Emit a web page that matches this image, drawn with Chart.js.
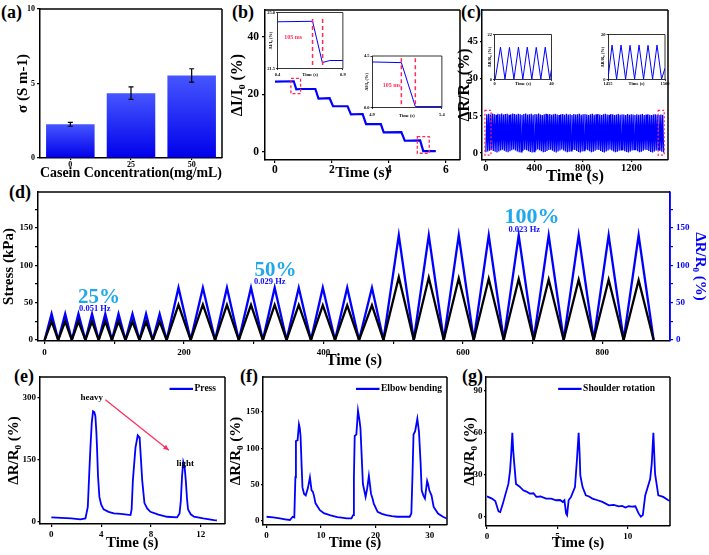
<!DOCTYPE html>
<html><head><meta charset="utf-8">
<script src="https://cdn.jsdelivr.net/npm/chart.js@4.4.1/dist/chart.umd.min.js"></script>
<style>
html,body{margin:0;padding:0;background:#fff;}
body{width:709px;height:555px;position:relative;overflow:hidden;}
canvas{position:absolute;}
.lbl{position:absolute;font:bold 18px "Liberation Serif",serif;line-height:18px;color:#000;}
</style></head><body>
<div class="lbl" style="left:1px;top:3px">(a)</div>
<div class="lbl" style="left:232px;top:3px">(b)</div>
<div class="lbl" style="left:461px;top:3px">(c)</div>
<div class="lbl" style="left:9px;top:183px">(d)</div>
<div class="lbl" style="left:14px;top:367px">(e)</div>
<div class="lbl" style="left:240px;top:367px">(f)</div>
<div class="lbl" style="left:462px;top:367px">(g)</div>
<script>
// ---------------- DATA ----------------
// (a)
const aCategories = ['0', '25', '50'];
const aValues = [2.26, 4.35, 5.54];
const aErrors = [0.13, 0.42, 0.45];
const aYTicks = [0, 5, 10];
const aYLabels = ['0', '5', '10'];
// (b) main
const bTime = [0, 0.66, 0.75, 0.9, 1.42, 1.53, 1.92, 2.04, 2.55, 2.67, 3.08, 3.2, 3.72, 3.82, 4.44, 4.56, 5.1, 5.21, 5.65];
const bCurrent = [24.5, 24.6, 21.8, 21.9, 21.9, 18.6, 18.7, 15.9, 15.9, 13.1, 13.2, 9.7, 9.7, 6.8, 6.9, 3.9, 4.0, 0.3, 0.3];
const bXTicks = [0, 2, 4, 6];
const bXLabels = ['0', '2', '4', '6'];
const bYTicks = [0, 20, 40];
const bYLabels = ['0', '20', '40'];
// (b) insets
const b1Time = [0.4, 0.668, 0.743, 0.8, 0.9];
const b1Current = [24.42, 24.45, 21.87, 22.0, 22.0];
const b1XTicks = [0.4, 0.9], b1XLabels = ['0.4', '0.9'];
const b1YTicks = [21.5, 25.0], b1YLabels = ['21.5', '25.0'];
const b2Time = [4.9, 5.11, 5.21, 5.4];
const b2Current = [3.98, 3.92, 0.08, 0.08];
const b2XTicks = [4.9, 5.4], b2XLabels = ['4.9', '5.4'];
const b2YTicks = [0, 4.5], b2YLabels = ['0.0', '4.5'];
// (c) main: per-cycle peak and valley values, cycles evenly spaced
const cPeriod = 15.26;
const cPeaks = [15.6,15.8,15.5,15.9,15.7,15.4,15.8,15.6,15.9,15.5,
  15.7,15.8,15.4,15.6,15.9,15.7,15.5,15.8,15.6,15.4,
  15.7,15.9,15.5,15.6,15.8,15.4,15.7,15.6,15.9,15.5,
  15.3,15.6,15.8,15.5,15.7,15.4,15.6,15.8,15.5,15.3,
  15.6,15.7,15.4,15.8,15.5,15.6,15.3,15.7,15.5,15.6,
  15.8,15.4,15.6,15.7,15.5,15.3,15.6,15.8,15.4,15.6,
  15.7,15.5,15.3,15.6,15.8,15.5,15.4,15.7,15.6,15.3,
  15.5,15.7,15.4,15.6,15.5,15.3,15.7,15.4,15.6,15.5,
  15.3,15.6,15.4,15.5,15.7,15.3,15.5,15.6,15.4,15.3,
  15.5,15.6,15.4,15.3,15.5,15.4];
const cValleys = [0.3,0.6,0.9,1.2,0.8,0.5,0.2,0.6,1.0,1.3,
  0.9,0.5,0.3,0.7,1.1,1.4,1.0,0.6,0.3,0.5,
  0.9,1.3,1.1,0.7,0.4,0.2,0.6,1.0,1.4,1.1,
  0.7,0.3,0.4,0.8,1.2,1.3,0.9,0.5,0.2,0.6,
  1.0,1.4,1.0,0.6,0.3,0.5,0.9,1.3,1.2,0.8,
  0.4,0.2,0.6,1.0,1.4,1.1,0.7,0.3,0.5,0.9,
  1.3,1.2,0.8,0.4,0.2,0.6,1.0,1.4,1.0,0.6,
  0.3,0.5,0.9,1.3,1.1,0.7,0.4,0.2,0.6,1.0,
  1.4,1.1,0.7,0.3,0.5,0.9,1.3,1.2,0.8,0.4,
  0.2,0.6,1.0,1.3,0.9,0.5,0.2];
const cXTicks = [0, 400, 800, 1200], cXLabels = ['0', '400', '800', '1200'];
const cYTicks = [0, 15, 30, 45], cYLabels = ['0', '15', '30', '45'];
// (c) insets
const c1Time = [0.5, 4.2, 7.35, 10.5, 13.65, 16.8, 19.9, 23, 26.2, 29.3, 32.5, 35.6, 38.8, 40];
const c1Resp = [0.2, 15.8, 0.2, 15.7, 0.2, 15.8, 0.2, 15.8, 0.2, 15.7, 0.2, 15.8, 0.2, 5];
const c1XTicks = [0, 40], c1XLabels = ['0', '40'];
const c1YTicks = [0, 22], c1YLabels = ['0', '22'];
const c2Time = [1455, 1458.2, 1461.8, 1465.3, 1468.9, 1472.4, 1476, 1479.5, 1483.1, 1486.6, 1490.2, 1493.7, 1497.3, 1500];
const c2Resp = [0.5, 15.3, 0.2, 15.3, 0.2, 15.2, 0.2, 15.3, 0.2, 15.2, 0.2, 15.3, 0.2, 5];
const c2XTicks = [1455, 1500], c2XLabels = ['1455', '1500'];
const c2YTicks = [0, 20], c2YLabels = ['0', '20'];
// (d)
const dTime = [0,10,19.5,29.5,39,48.5,58.5,68,77.5,87,96.5,106,116,126,136,145.5,155,165,175,
  192,209.5,227,244.5,261.5,278.5,296,313,330,347,364.5,382,399,416.5,434,451,469.5,486,
  508,529.5,551,572.5,594,615.5,637,658.5,680,701.5,723,744.5,766,787.5,809,830.5,852,873.5];
const dStress = [0,25,0,25,0,25,0,25,0,25,0,25,0,24.5,0,24.5,0,24.5,0,
  47,0,47.5,0,47,0,47,0,47,0,47,0,46.5,0,46.5,0,46.5,0,
  84,0,83.5,0,82.5,0,82,0,81.5,0,81,0,80.5,0,80.5,0,80,0];
const dResist = [0,35,0,35,0,35,0,35,0,35,0,35,0,35,0,35,0,35,0,
  70,0,70,0,70,0,70,0,70,0,70,0,70,0,70,0,70,0,
  140,0,140,0,140,0,140,0,140,0,140,0,140,0,140,0,140,0];
const dXTicks = [0,100,200,300,400,500,600,700,800];
const dXLabels = ['0','','200','','400','','600','','800'];
const dYTicks = [0,25,50,75,100,125,150,175];
const dYLabels = ['0','','50','','100','','150',''];
// (e)
const eTime = [0,0.8,1.6,2.33,2.74,2.93,3.05,3.14,3.25,3.35,3.45,3.54,3.62,3.67,3.75,3.86,4.0,4.2,4.6,5.02,5.6,6.36,6.45,6.55,6.76,6.94,7.05,7.1,7.2,7.3,7.48,7.7,7.96,8.6,9.3,10.1,10.3,10.4,10.5,10.6,10.7,10.8,10.9,10.98,11.2,11.46,12.2,13.07,13.3];
const eResp = [10.5,9.5,8,5.7,8,36,120,179,240,267,265,255,215,179,110,60,42,30,24,20,19,16,30,100,179,209,205,199,150,100,45,32,24,17,12,10.5,20,50,110,145,135,100,55,30,18,12,8,4,3.5];
const eXTicks = [0,4,8,12], eXLabels = ['0','4','8','12'];
const eYTicks = [0,150,300], eYLabels = ['0','150','300'];
// (f)
const fTime = [0,1.2,2.45,3.4,4.3,4.8,5.1,5.3,5.4,5.7,5.95,6.1,6.25,6.45,6.6,6.9,7.2,7.6,7.97,8.27,8.5,8.7,9.0,9.8,10.6,11.1,11.6,12.3,13,13.8,14.7,15.6,15.9,16.05,16.2,16.5,16.8,17.05,17.25,17.5,17.7,18.2,18.5,18.8,19.2,19.5,19.7,20.4,21.2,22,23,24,25.7,26.3,26.6,26.8,27,27.3,27.7,28,28.3,28.5,28.8,29.1,29.5,29.7,29.9,30.3,30.7,31.5,32.4,33.1];
const fResp = [5.5,4.5,3.2,2,1,5.5,4.6,60,110,111,133,128,117,75,46,37,35,45,60,42,40,35,24,14.5,10,9,7.7,6.5,5,4.2,3.2,3.2,7.7,60,117,119,152,140,128,85,51,33,45,62,37,30,23.6,12.3,9.5,7.7,6.2,5.5,5.5,5.5,10,60,119,123.5,140.7,123,80,42,35,30.6,55,50,42,35,19,10,5.5,3];
const fXTicks = [0,10,20,30], fXLabels = ['0','10','20','30'];
const fYTicks = [0,50,100,150], fYLabels = ['0','50','100','150'];
// (g)
const gTime = [0,0.35,0.59,0.82,0.94,1.13,1.29,1.52,1.64,1.72,1.8,1.86,1.92,2.06,2.3,2.58,2.8,3.04,3.3,3.51,3.8,4.2,4.56,4.91,5.2,5.38,5.5,5.62,5.69,5.8,5.97,6.25,6.4,6.51,6.58,6.63,6.79,7.02,7.25,7.49,7.8,8.2,8.66,9.0,9.36,9.6,9.83,10.07,10.3,10.54,10.77,10.93,11.07,11.24,11.59,11.7,11.82,11.88,11.94,12.17,12.52,12.88,13.04];
const gResp = [14.6,13,11.3,3.8,3.3,9.4,15.3,23.5,33,45,60,48,40,23.5,21.7,18.9,18,16.6,16.8,14.2,14.5,13,13,11.8,12,10.6,11.8,2.4,1.2,11.8,14.2,21.2,42.4,60,45,29.6,21.2,15.3,14.5,13,12,10.6,8.2,8.5,7.5,7.8,6.6,7.5,7.2,7.5,2.4,0,1.2,15.3,27,37.6,60,45,30.6,15.3,14.2,11.8,11.3];
const gXTicks = [0,5,10], gXLabels = ['0','5','10'];
const gYTicks = [0,30,60,90], gYLabels = ['0','30','60','90'];

// ---------------- HELPERS ----------------
const SERIF = "'Liberation Serif', 'Times New Roman', serif";
const BLUE = '#0000ff', RED = '#ff2a5c', CYAN = '#1fa8ec';
const fnt = (size) => ({ family: SERIF, size: size, weight: 'bold', lineHeight: 1.2 });
const pts = (xs, ys) => xs.map((x, i) => ({ x: x, y: ys[i] }));

Chart.register({
  id: 'frame',
  beforeDatasetsDraw(chart, args, opts) {
    const a = chart.chartArea, ctx = chart.ctx;
    ctx.save();
    ctx.lineWidth = opts.width || 1.5;
    ctx.strokeStyle = opts.color || '#000';
    ctx.beginPath(); ctx.moveTo(a.left, a.top); ctx.lineTo(a.right, a.top); ctx.stroke();
    ctx.strokeStyle = opts.rightColor || opts.color || '#000';
    ctx.beginPath(); ctx.moveTo(a.right, a.top); ctx.lineTo(a.right, a.bottom); ctx.stroke();
    ctx.restore();
  }
});

function notes(items) {
  return { id: 'notes', afterDatasetsDraw(chart) {
    const ctx = chart.ctx;
    items.forEach(it => {
      const xs = chart.scales[it.xAxis || 'x'], ys = chart.scales[it.yAxis || 'y'];
      const X = v => xs.getPixelForValue(v), Y = v => ys.getPixelForValue(v);
      ctx.save();
      ctx.strokeStyle = it.color || '#000'; ctx.fillStyle = it.color || '#000';
      ctx.lineWidth = it.width || 1;
      if (it.dash) ctx.setLineDash(it.dash);
      if (it.type === 'text') {
        ctx.font = it.font; ctx.textAlign = 'center'; ctx.textBaseline = 'middle';
        ctx.fillText(it.text, X(it.x), Y(it.y));
      } else if (it.type === 'rect') {
        const x1 = X(it.x1), x2 = X(it.x2), y1 = Y(it.y1), y2 = Y(it.y2);
        ctx.strokeRect(Math.min(x1, x2), Math.min(y1, y2), Math.abs(x2 - x1), Math.abs(y2 - y1));
      } else if (it.type === 'vline') {
        ctx.beginPath(); ctx.moveTo(X(it.x), Y(it.y1)); ctx.lineTo(X(it.x), Y(it.y2)); ctx.stroke();
      } else if (it.type === 'arrow') {
        const x1 = X(it.x1), y1 = Y(it.y1), x2 = X(it.x2), y2 = Y(it.y2);
        ctx.beginPath(); ctx.moveTo(x1, y1); ctx.lineTo(x2, y2); ctx.stroke();
        const ang = Math.atan2(y2 - y1, x2 - x1), h = 6;
        ctx.beginPath(); ctx.moveTo(x2, y2);
        ctx.lineTo(x2 - h * Math.cos(ang - 0.42), y2 - h * Math.sin(ang - 0.42));
        ctx.lineTo(x2 - h * Math.cos(ang + 0.42), y2 - h * Math.sin(ang + 0.42));
        ctx.closePath(); ctx.fill();
      }
      ctx.restore();
    });
  }};
}

// legend drawn in the top-right corner of the plot area (line sample + dataset label)
function cornerLegend(rightGap) {
  return { id: 'cornerLegend', afterDatasetsDraw(chart) {
    const a = chart.chartArea, ctx = chart.ctx, ds = chart.data.datasets[0];
    ctx.save();
    ctx.font = 'bold 9.5px ' + SERIF; ctx.textAlign = 'right'; ctx.textBaseline = 'middle'; ctx.fillStyle = '#000';
    const xr = a.right - rightGap, y = a.top + 12;
    ctx.fillText(ds.label, xr, y);
    const w = ctx.measureText(ds.label).width;
    ctx.strokeStyle = ds.borderColor; ctx.lineWidth = 2.2;
    ctx.beginPath(); ctx.moveTo(xr - w - 25, y); ctx.lineTo(xr - w - 1.5, y); ctx.stroke();
    ctx.restore();
  }};
}

function linAxis(o) {
  const col = o.color || '#000';
  return {
    type: 'linear', position: o.pos, min: o.min, max: o.max,
    afterBuildTicks: s => { s.ticks = o.ticks.map(v => ({ value: v })); },
    ticks: { font: fnt(o.fs), color: col, padding: o.tp, autoSkip: false, maxRotation: 0, minRotation: 0,
      callback: v => { const i = o.ticks.indexOf(v); return i >= 0 ? o.labels[i] : ''; } },
    grid: { display: true, drawOnChartArea: false, drawTicks: true, tickLength: o.tl == null ? 3 : o.tl, color: col, lineWidth: o.bw || 1.2 },
    border: { display: true, color: col, width: o.bw || 1.5 },
    title: { display: !!o.title, text: o.title, font: fnt(o.ts), color: col, padding: { top: o.pad, bottom: o.pad } }
  };
}

function mk(box, plot, cfg) {
  const cv = document.createElement('canvas');
  cv.width = box[2]; cv.height = box[3];
  cv.style.left = box[0] + 'px'; cv.style.top = box[1] + 'px';
  cv.style.width = box[2] + 'px'; cv.style.height = box[3] + 'px';
  document.body.appendChild(cv);
  const L = plot[0] - box[0], T = plot[1] - box[1], R = box[0] + box[2] - plot[2], B = box[1] + box[3] - plot[3];
  const o = cfg.options;
  let hasRight = false;
  Object.keys(o.scales).forEach(k => {
    const s = o.scales[k];
    const pos = s.position || (k[0] === 'x' ? 'bottom' : 'left');
    s.position = pos;
    if (pos === 'right') hasRight = true;
    s.afterFit = sc => { if (pos === 'left') sc.width = L; else if (pos === 'right') sc.width = R; else sc.height = B; };
  });
  o.responsive = false; o.animation = false;
  o.layout = { padding: { top: T, right: hasRight ? 0 : R, left: 0, bottom: 0 } };
  o.plugins = Object.assign({ tooltip: { enabled: false }, legend: { display: false } }, o.plugins || {});
  return new Chart(cv, cfg);
}

function lineDS(data, color, width, extra) {
  return Object.assign({ data: data, borderColor: color, backgroundColor: color, borderWidth: width,
    pointRadius: 0, tension: 0, fill: false }, extra || {});
}

// ---------------- (a) ----------------
function barGrad(c) {
  const ch = c.chart, a = ch.chartArea;
  if (!a) return '#2030ff';
  const top = ch.scales.y.getPixelForValue(c.raw);
  const g = ch.ctx.createLinearGradient(0, top, 0, a.bottom);
  g.addColorStop(0, '#4656ff'); g.addColorStop(1, '#0000ea');
  return g;
}
const errPlugin = { id: 'errbars', afterDatasetsDraw(chart) {
  const meta = chart.getDatasetMeta(0), ys = chart.scales.y, ctx = chart.ctx;
  ctx.save(); ctx.strokeStyle = '#000'; ctx.lineWidth = 1.2;
  meta.data.forEach((el, i) => {
    const t = ys.getPixelForValue(aValues[i] + aErrors[i]), b = ys.getPixelForValue(aValues[i] - aErrors[i]);
    ctx.beginPath();
    ctx.moveTo(el.x, t); ctx.lineTo(el.x, b);
    ctx.moveTo(el.x - 2.5, t); ctx.lineTo(el.x + 2.5, t);
    ctx.moveTo(el.x - 2.5, b); ctx.lineTo(el.x + 2.5, b);
    ctx.stroke();
  });
  ctx.restore();
}};
mk([0, 0, 232, 186], [40, 9, 222, 158], {
  type: 'bar',
  data: { labels: aCategories, datasets: [{ data: aValues, backgroundColor: barGrad, borderWidth: 0, barPercentage: 0.8, categoryPercentage: 1 }] },
  options: {
    plugins: { frame: {} },
    scales: {
      x: { type: 'category', position: 'bottom', offset: true,
        ticks: { font: fnt(8), color: '#000', padding: 0 },
        grid: { display: true, drawOnChartArea: false, offset: false, tickLength: 2, color: '#000', lineWidth: 1.2 },
        border: { display: true, color: '#000', width: 1.5 },
        title: { display: true, text: 'Casein Concentration(mg/mL)', font: fnt(15), color: '#000', padding: { top: 3.5, bottom: 3.5 } } },
      y: linAxis({ pos: 'left', min: 0, max: 10, ticks: aYTicks, labels: aYLabels, fs: 8, tp: 2, title: 'σ (S m-1)', ts: 15, pad: 14 })
    }
  },
  plugins: [errPlugin]
});

// ---------------- (b) ----------------
mk([226, 0, 244, 188], [265, 10, 460, 160], {
  type: 'line',
  data: { datasets: [lineDS(pts(bTime, bCurrent), BLUE, 2.2)] },
  options: {
    scales: {
      x: linAxis({ pos: 'bottom', min: -0.35, max: 6.5, ticks: bXTicks, labels: bXLabels, fs: 11.5, tp: 0, title: 'Time (s)', ts: 15.5, pad: 5.5 }),
      y: linAxis({ pos: 'left', min: -2.8, max: 49.4, ticks: bYTicks, labels: bYLabels, fs: 11.5, tp: 3, title: 'ΔI/I₀ (%)', ts: 16, pad: 2 })
    }
  },
  plugins: [notes([
    { type: 'rect', x1: 0.56, x2: 0.9, y1: 25.6, y2: 20.3, color: RED, dash: [3, 2], width: 1.3 },
    { type: 'rect', x1: 5.0, x2: 5.42, y1: 5.3, y2: -0.45, color: RED, dash: [3, 2], width: 1.3 }
  ])]
});

// ---------------- (c) ----------------
const cData = [];
cValleys.forEach((v, i) => {
  cData.push({ x: i * cPeriod, y: v });
  if (i < cPeaks.length) cData.push({ x: (i + 0.5) * cPeriod, y: cPeaks[i] });
});
mk([455, 0, 254, 188], [482, 10, 668, 160], {
  type: 'line',
  data: { datasets: [lineDS(cData, BLUE, 1.3)] },
  options: {
    scales: {
      x: linAxis({ pos: 'bottom', min: -32, max: 1501, ticks: cXTicks, labels: cXLabels, fs: 10.5, tp: 0, tl: 2, title: 'Time (s)', ts: 16.5, pad: 1.5 }),
      y: linAxis({ pos: 'left', min: -2.8, max: 57.7, ticks: cYTicks, labels: cYLabels, fs: 10.5, tp: 2, tl: 2, title: 'ΔR/R₀ (%)', ts: 16, pad: 0 })
    }
  },
  plugins: [notes([
    { type: 'rect', x1: -8, x2: 42, y1: 17.2, y2: -0.8, color: RED, dash: [2, 2], width: 1.2 },
    { type: 'rect', x1: 1420, x2: 1470, y1: 17.2, y2: -0.8, color: RED, dash: [2, 2], width: 1.2 }
  ])]
});

// ---------------- (d) ----------------
mk([0, 182, 709, 190], [38, 192, 670, 341], {
  type: 'line',
  data: { datasets: [
    lineDS(pts(dTime, dStress), '#000', 2.3, { yAxisID: 'y' }),
    lineDS(pts(dTime, dResist), BLUE, 2.3, { yAxisID: 'y2' })
  ] },
  options: {
    plugins: { frame: { rightColor: BLUE } },
    scales: {
      x: linAxis({ pos: 'bottom', min: -9.5, max: 897, ticks: dXTicks, labels: dXLabels, fs: 9, tp: 3, title: 'Time (s)', ts: 16, pad: 1.5 }),
      y: linAxis({ pos: 'left', min: -1.3, max: 198, ticks: dYTicks, labels: dYLabels, fs: 9, tp: 2, title: 'Stress (kPa)', ts: 15, pad: 0.5 }),
      y2: linAxis({ pos: 'right', min: -1.3, max: 198, ticks: dYTicks, labels: dYLabels, fs: 9, tp: 3, title: 'ΔR/R₀ (%)', ts: 15, pad: 0.5, color: BLUE })
    }
  },
  plugins: [notes([
    { type: 'text', text: '25%', x: 78, y: 57, font: 'bold 21px ' + SERIF, color: CYAN },
    { type: 'text', text: '0.051 Hz', x: 72, y: 42.3, font: 'bold 8.5px ' + SERIF, color: '#1010ff' },
    { type: 'text', text: '50%', x: 331, y: 92.7, font: 'bold 21px ' + SERIF, color: CYAN },
    { type: 'text', text: '0.029 Hz', x: 323, y: 77.6, font: 'bold 8.5px ' + SERIF, color: '#1010ff' },
    { type: 'text', text: '100%', x: 699, y: 163.6, font: 'bold 22px ' + SERIF, color: CYAN },
    { type: 'text', text: '0.023 Hz', x: 688, y: 147.4, font: 'bold 8.5px ' + SERIF, color: '#1010ff' }
  ])]
});

// ---------------- (e),(f),(g) ----------------
mk([0, 370, 236, 185], [39.5, 375, 225, 524], {
  type: 'line',
  data: { datasets: [lineDS(pts(eTime, eResp), BLUE, 1.8, { label: 'Press' })] },
  options: {
    scales: {
      x: linAxis({ pos: 'bottom', min: -0.95, max: 13.95, ticks: eXTicks, labels: eXLabels, fs: 9, tp: 2, title: 'Time (s)', ts: 15, pad: 3 }),
      y: linAxis({ pos: 'left', min: -5.5, max: 350, ticks: eYTicks, labels: eYLabels, fs: 9, tp: 1.5, tl: 2, title: 'ΔR/R₀ (%)', ts: 15, pad: 5 })
    }
  },
  plugins: [cornerLegend(9), notes([
    { type: 'text', text: 'heavy', x: 3.24, y: 300, font: 'bold 9px ' + SERIF, color: '#000' },
    { type: 'text', text: 'light', x: 10.76, y: 140, font: 'bold 9px ' + SERIF, color: '#000' },
    { type: 'arrow', x1: 4.34, y1: 294.7, x2: 9.44, y2: 172.9, color: RED, width: 1.2 }
  ])]
});
mk([226, 370, 240, 185], [263, 375, 447, 525], {
  type: 'line',
  data: { datasets: [lineDS(pts(fTime, fResp), BLUE, 1.8, { label: 'Elbow bending' })] },
  options: {
    scales: {
      x: linAxis({ pos: 'bottom', min: -0.65, max: 33.15, ticks: fXTicks, labels: fXLabels, fs: 9, tp: 2, title: 'Time (s)', ts: 15, pad: 3 }),
      y: linAxis({ pos: 'left', min: -5.9, max: 198.5, ticks: fYTicks, labels: fYLabels, fs: 9, tp: 1.5, tl: 2, title: 'ΔR/R₀ (%)', ts: 15, pad: 1 })
    }
  },
  plugins: [cornerLegend(5)]
});
mk([457, 370, 252, 185], [486, 375, 670, 526], {
  type: 'line',
  data: { datasets: [lineDS(pts(gTime, gResp), BLUE, 1.8, { label: 'Shoulder rotation' })] },
  options: {
    scales: {
      x: linAxis({ pos: 'bottom', min: -0.07, max: 13.0, ticks: gXTicks, labels: gXLabels, fs: 9, tp: 2, title: 'Time (s)', ts: 15, pad: 3 }),
      y: linAxis({ pos: 'left', min: -6.6, max: 100, ticks: gYTicks, labels: gYLabels, fs: 9, tp: 1.5, tl: 2, title: 'ΔR/R₀ (%)', ts: 15, pad: 4 })
    }
  },
  plugins: [cornerLegend(15)]
});

// ---------------- insets ----------------
function inset(box, plot, xs, ys, xr, yr, xt, xl, yt, yl, ytitle, padY, padXt, padXl, extra) {
  return mk(box, plot, {
    type: 'line',
    data: { datasets: [lineDS(pts(xs, ys), BLUE, 1)] },
    options: {
      plugins: { frame: { width: 0.8 } },
      scales: {
        x: linAxis({ pos: 'bottom', min: xr[0], max: xr[1], ticks: xt, labels: xl, fs: 4.5, tp: padXt, tl: 1.5, bw: 0.8, title: 'Time (s)', ts: 4.5, pad: padXl }),
        y: linAxis({ pos: 'left', min: yr[0], max: yr[1], ticks: yt, labels: yl, fs: 4.5, tp: 1, tl: 1.5, bw: 0.8, title: ytitle, ts: 4.5, pad: padY })
      }
    },
    plugins: extra ? [notes(extra)] : []
  });
}
inset([262, 8, 86, 72], [277.5, 12.5, 344, 68.5], b1Time, b1Current, [0.4, 0.9], [21.5, 25.0],
  b1XTicks, b1XLabels, b1YTicks, b1YLabels, 'ΔI/I₀ (%)', 6, 2.3, 2.3, [
    { type: 'vline', x: 0.668, y1: 24.6, y2: 21.7, color: RED, dash: [4, 3], width: 1.5 },
    { type: 'vline', x: 0.745, y1: 24.6, y2: 21.7, color: RED, dash: [4, 3], width: 1.5 },
    { type: 'text', text: '105 ms', x: 0.52, y: 23.45, font: 'bold 6px ' + SERIF, color: RED }
  ]);
inset([356, 52, 92, 70], [372, 56, 443, 107.5], b2Time, b2Current, [4.9, 5.4], [0, 4.5],
  b2XTicks, b2XLabels, b2YTicks, b2YLabels, 'ΔI/I₀ (%)', 8, 3.3, 3.3, [
    { type: 'vline', x: 5.11, y1: 4.3, y2: 0, color: RED, dash: [4, 3], width: 1.5 },
    { type: 'vline', x: 5.21, y1: 4.3, y2: 0, color: RED, dash: [4, 3], width: 1.5 },
    { type: 'text', text: '105 ms', x: 5.04, y: 1.97, font: 'bold 6px ' + SERIF, color: RED }
  ]);
inset([481, 30, 75, 60], [494.5, 34.5, 551.5, 79.5], c1Time, c1Resp, [0, 40], [0, 22],
  c1XTicks, c1XLabels, c1YTicks, c1YLabels, 'ΔR/R₀ (%)', 5.8, 0.5, 3.3);
inset([595, 30, 75, 60], [608, 34.5, 665, 79.5], c2Time, c2Resp, [1455, 1500], [0, 20],
  c2XTicks, c2XLabels, c2YTicks, c2YLabels, 'ΔR/R₀ (%)', 5.6, 0.5, 3.3);
</script>
</body></html>
